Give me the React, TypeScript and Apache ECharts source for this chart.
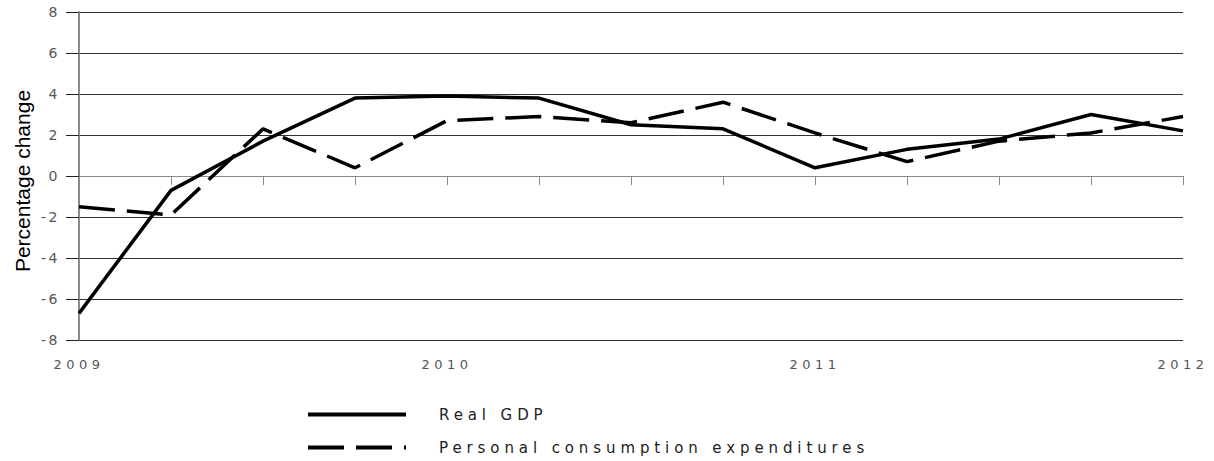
import React, { useEffect, useRef } from "react";
import * as echarts from "echarts";

const quarters = [
  "2009", "2009 Q2", "2009 Q3", "2009 Q4",
  "2010", "2010 Q2", "2010 Q3", "2010 Q4",
  "2011", "2011 Q2", "2011 Q3", "2011 Q4",
  "2012",
];
const realGdp = [-6.7, -0.7, 1.7, 3.8, 3.9, 3.8, 2.5, 2.3, 0.4, 1.3, 1.8, 3.0, 2.2];
const pce = [-1.5, -1.9, 2.3, 0.4, 2.7, 2.9, 2.6, 3.6, 2.1, 0.7, 1.7, 2.1, 2.9];
const seriesNames = ["Real GDP", "Personal consumption expenditures"];
const yAxisTitle = "Percentage change";

const css = `
#chart-root text[fill="#555555"] { letter-spacing: 4.5px; }
#chart-root text[fill="#565656"] { letter-spacing: 2.5px; }
#chart-root text[fill="#222222"] { letter-spacing: 4.9px; }
`;

export default function App() {
  const ref = useRef<HTMLDivElement>(null);
  useEffect(() => {
    if (!ref.current) return;
    const chart = echarts.init(ref.current, null, { renderer: "svg" });
    chart.setOption({
      animation: false,
      backgroundColor: "#ffffff",
      grid: { left: 79, right: 31, top: 12, bottom: 121 },
      xAxis: {
        type: "category",
        data: quarters,
        boundaryGap: false,
        axisLine: { lineStyle: { color: "#8a8a8a", width: 1 } },
        axisTick: { show: true, interval: 0, length: 9, lineStyle: { color: "#8a8a8a" } },
        axisLabel: {
          interval: 0,
          formatter: (v: string) => (v.length === 4 ? v : ""),
          color: "#555555",
          fontFamily: "DejaVu Sans",
          fontSize: 13,
          margin: 18,
        },
        splitLine: { show: false },
      },
      yAxis: {
        type: "value",
        min: -8,
        max: 8,
        interval: 2,
        axisLine: { show: true, lineStyle: { color: "#8a8a8a", width: 2 } },
        axisTick: { show: true, length: 13, lineStyle: { color: "#222" } },
        axisLabel: {
          color: "#565656",
          fontFamily: "DejaVu Sans",
          fontSize: 14,
          margin: 19,
        },
        splitLine: { lineStyle: { color: "#333", width: 1 } },
      },
      legend: {
        orient: "vertical",
        left: 306,
        top: 407,
        padding: 0,
        itemWidth: 98,
        itemHeight: 14,
        itemGap: 18,
        itemStyle: { opacity: 0 },
        lineStyle: { width: 4 },
        textStyle: {
          fontFamily: "DejaVu Sans",
          fontSize: 15,
          color: "#222222",
          padding: [0, 0, 0, 28],
        },
        data: seriesNames,
      },
      graphic: [
        {
          type: "text",
          x: 22,
          y: 181,
          rotation: Math.PI / 2,
          style: {
            text: yAxisTitle,
            fill: "#000000",
            fontSize: 21,
            fontFamily: "Liberation Sans",
            align: "center",
            verticalAlign: "middle",
          },
        },
      ],
      series: [
        {
          name: seriesNames[0],
          type: "line",
          data: realGdp,
          symbol: "none",
          lineStyle: { color: "#000", width: 3.5 },
          itemStyle: { color: "#000" },
        },
        {
          name: seriesNames[1],
          type: "line",
          data: pce,
          symbol: "none",
          lineStyle: { color: "#000", width: 3.5, type: [36, 12] },
          itemStyle: { color: "#000" },
        },
      ],
    });
    return () => chart.dispose();
  }, []);
  return (
    <>
      <style>{css}</style>
      <div
        id="chart-root"
        ref={ref}
        style={{ position: "absolute", left: 0, top: 0, width: 1214, height: 461 }}
      />
    </>
  );
}
